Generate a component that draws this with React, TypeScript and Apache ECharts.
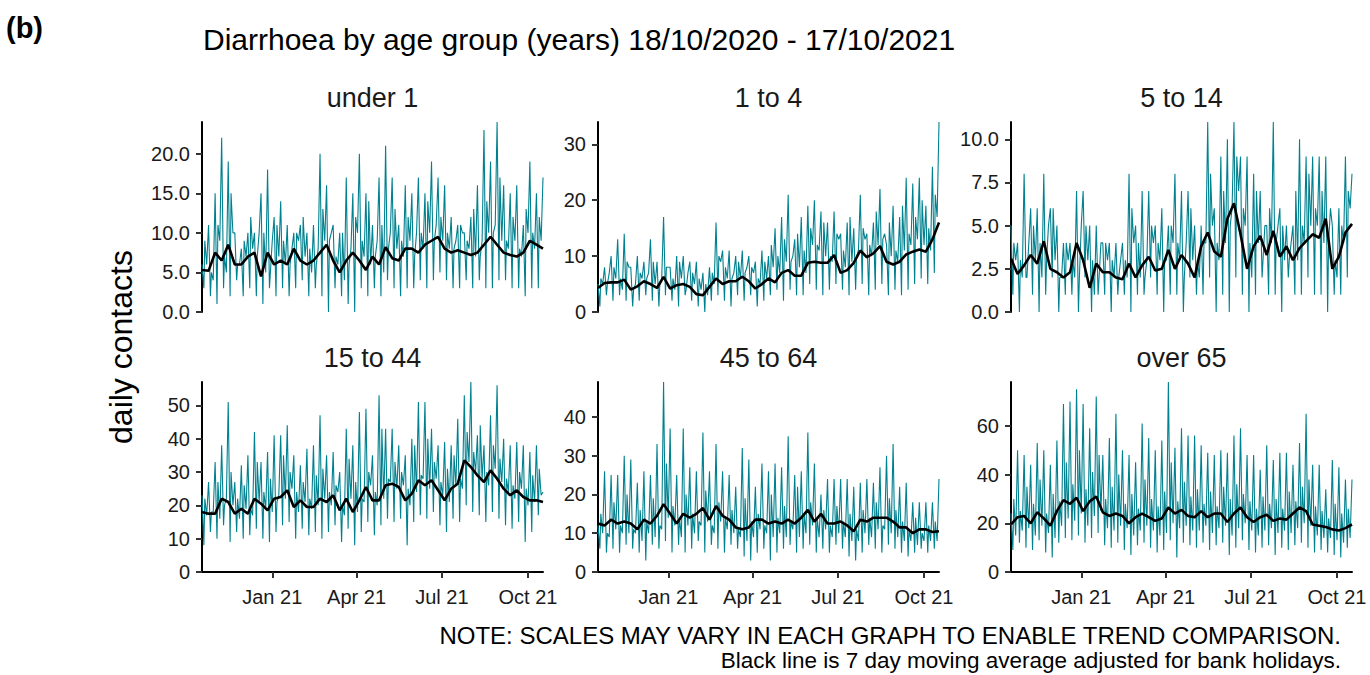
import { useEffect, useRef } from 'react';
import * as echarts from 'echarts';

// weeks start on Sunday 18/10/2020; last point is Sunday 17/10/2021
const START = Date.UTC(2020, 9, 18);
const END = Date.UTC(2021, 9, 17);
const DAY = 24 * 3600 * 1000;

const panelNames = ['under 1', '1 to 4', '5 to 14', '15 to 44', '45 to 64', 'over 65'];
const yMax = [24, 34, 11, 57, 49, 78];
const yTicks = [
    [0, 5, 10, 15, 20],
    [0, 10, 20, 30],
    [0, 2.5, 5, 7.5, 10],
    [0, 10, 20, 30, 40, 50],
    [0, 10, 20, 30, 40],
    [0, 20, 40, 60],
];
const yDecimals = [1, 0, 1, 0, 0, 0];

const xTickDates = ['2021-01-01', '2021-04-01', '2021-07-01', '2021-10-01'];
const xTickLabels = ['Jan 21', 'Apr 21', 'Jul 21', 'Oct 21'];

// per week: Sunday high, weekday low, mid-week second high, late-week value, 7 day average
const under1Peaks = [6, 11, 15, 22, 19, 10, 8, 10, 10, 15, 18, 12, 14, 11, 10, 11, 10, 11, 20, 16, 11, 10, 17, 15, 20, 15, 11, 17, 21, 17, 11, 16, 15, 17, 15, 19, 17, 16, 12, 11, 10, 12, 16, 23, 19, 24, 16, 15, 16, 11, 19, 15, 17];
const under1Lows = [3, 2, 1, 3, 2, 4, 2, 3, 2, 1, 3, 2, 3, 2, 3, 4, 2, 3, 2, 0, 3, 2, 1, 0, 3, 2, 3, 2, 4, 3, 2, 3, 3, 4, 3, 4, 5, 4, 3, 3, 4, 3, 4, 3, 3, 4, 4, 3, 3, 2, 3, 3];
const under1Second = [9, 5, 11, 7, 15, 6, 9, 12, 7, 10, 5, 11, 9, 6, 10, 12, 8, 6, 13, 9, 7, 10, 6, 12, 9, 14, 7, 11, 8, 13, 9, 12, 7, 10, 14, 9, 12, 10, 8, 11, 9, 13, 7, 14, 10, 17, 9, 12, 8, 13, 10, 12];
const under1Mids = [6, 4, 9, 5, 10, 6, 7, 8, 10, 5, 9, 7, 6, 8, 9, 7, 5, 8, 9, 10, 6, 4, 8, 10, 7, 6, 9, 5, 10, 8, 7, 9, 10, 8, 10, 11, 9, 8, 9, 10, 8, 7, 9, 10, 11, 9, 8, 9, 7, 10, 8, 9];
const under1Avg = [5.3, 5.2, 7.5, 6.5, 8.5, 6, 6, 7, 7.5, 4.5, 7.5, 6, 6.5, 6, 8, 6.5, 6, 6.5, 7.5, 8.5, 6.5, 5, 6.5, 7.5, 6.5, 5.3, 7, 6, 8.2, 6.8, 6.5, 8, 8, 7.5, 8.5, 9, 9.5, 8, 7.5, 7.8, 7.5, 7.2, 7.5, 8.5, 9.5, 8.5, 7.5, 7.2, 7, 7.5, 9, 8.5, 8];

const age1to4Peaks = [5, 8, 10, 13, 14, 8, 10, 9, 13, 9, 17, 8, 10, 10, 9, 9, 7, 8, 16, 11, 11, 10, 11, 10, 9, 11, 10, 15, 17, 21, 13, 17, 19, 20, 18, 16, 18, 14, 16, 15, 21, 14, 16, 22, 12, 19, 17, 24, 23, 24, 19, 26, 34];
const age1to4Lows = [1, 3, 2, 3, 2, 1, 2, 3, 2, 1, 3, 2, 1, 3, 2, 1, 0, 2, 3, 2, 1, 3, 2, 3, 1, 2, 3, 4, 2, 4, 3, 3, 5, 4, 3, 4, 5, 4, 3, 4, 5, 3, 4, 5, 3, 4, 3, 4, 5, 6, 5, 7];
const age1to4Second = [6, 5, 8, 6, 9, 4, 7, 6, 9, 5, 8, 6, 9, 4, 7, 6, 5, 7, 10, 8, 6, 9, 7, 8, 6, 9, 12, 10, 13, 9, 14, 11, 15, 12, 16, 10, 14, 11, 17, 10, 15, 12, 18, 13, 16, 11, 19, 14, 17, 20, 15, 21];
const age1to4Mids = [5, 7, 6, 4, 8, 5, 6, 7, 5, 6, 8, 4, 6, 7, 5, 4, 3, 5, 9, 6, 7, 6, 8, 7, 5, 6, 8, 7, 9, 10, 8, 7, 12, 11, 10, 9, 13, 8, 9, 11, 13, 10, 12, 14, 10, 9, 11, 12, 13, 12, 11, 17];
const age1to4Avg = [4.3, 5.2, 5.3, 5.3, 5.8, 4, 4.6, 5.5, 5, 4.3, 6.3, 4.2, 4.8, 5, 4.5, 3.2, 3, 4.5, 6, 5, 5.5, 5.5, 6.3, 5.5, 4.2, 5, 6, 5.3, 7, 7.5, 6.5, 6.5, 8.8, 9, 8.8, 8.8, 10.2, 7, 7.5, 8.8, 11, 9.8, 10.5, 11.8, 9, 8.5, 9, 10.3, 10.8, 11.2, 10.8, 13, 16];

const age5to14Peaks = [5, 4, 8, 6, 6, 8, 6, 5, 4, 4, 7, 7, 5, 5, 4, 4, 4, 4, 8, 5, 7, 7, 5, 6, 5, 8, 7, 7, 5, 5, 11, 6, 9, 10, 11, 9, 9, 8, 7, 5, 11, 6, 5, 5, 10, 9, 9, 9, 9, 5, 6, 9, 8];
const age5to14Lows = [1, 0, 2, 1, 0, 1, 2, 0, 1, 1, 0, 2, 0, 1, 1, 0, 1, 1, 0, 1, 1, 2, 1, 0, 1, 1, 0, 2, 1, 1, 2, 0, 1, 0, 2, 1, 0, 1, 2, 1, 1, 0, 2, 1, 1, 2, 1, 1, 0, 1, 1, 2];
const age5to14Second = [4, 3, 2, 5, 4, 3, 6, 2, 4, 3, 2, 5, 3, 2, 4, 3, 2, 3, 6, 4, 2, 5, 4, 3, 5, 4, 2, 6, 3, 4, 8, 4, 7, 5, 9, 6, 4, 7, 3, 6, 4, 5, 3, 7, 5, 8, 6, 7, 4, 3, 5, 7];
const age5to14Mids = [3, 2, 4, 3, 2, 5, 3, 2, 3, 2, 5, 3, 1, 4, 3, 2, 3, 2, 4, 2, 3, 4, 3, 3, 4, 3, 4, 3, 2, 4, 5, 3, 4, 6, 7, 5, 2, 4, 5, 4, 5, 3, 4, 3, 4, 5, 5, 4, 6, 2, 4, 6];
const age5to14Avg = [3.1, 2.2, 2.7, 3.3, 2.8, 4.1, 2.5, 2.3, 2, 2.3, 4, 3, 1.4, 2.8, 2.3, 2.3, 2, 1.9, 2.8, 2, 2.7, 3.2, 2.4, 2.5, 3.6, 2.5, 3.3, 2.8, 2, 3.8, 4.6, 3.5, 3.2, 5.4, 6.3, 4.5, 2.5, 3.8, 4.4, 3.3, 4.7, 3.2, 3.8, 3, 3.7, 4.1, 4.5, 4.3, 5.4, 2.5, 3.2, 4.6, 5.1];

const age15to44Peaks = [23, 27, 33, 38, 51, 27, 32, 35, 42, 33, 36, 41, 41, 44, 35, 32, 37, 38, 47, 35, 36, 30, 43, 38, 48, 49, 35, 53, 43, 43, 38, 35, 40, 51, 51, 43, 38, 39, 38, 46, 53, 57, 41, 38, 47, 56, 40, 38, 39, 38, 36, 38, 24];
const age15to44Lows = [8, 12, 10, 14, 9, 12, 10, 11, 13, 10, 9, 12, 14, 15, 10, 13, 11, 12, 10, 12, 14, 9, 13, 8, 12, 15, 11, 14, 16, 15, 16, 8, 15, 17, 16, 18, 14, 12, 16, 15, 20, 18, 17, 15, 18, 16, 14, 13, 15, 9, 12, 17];
const age15to44Second = [22, 18, 27, 20, 30, 22, 26, 19, 33, 24, 28, 21, 35, 30, 24, 27, 22, 29, 31, 24, 26, 20, 34, 27, 22, 30, 24, 43, 28, 33, 30, 25, 38, 29, 40, 33, 27, 31, 35, 28, 42, 36, 44, 30, 38, 34, 28, 26, 30, 25, 29, 31];
const age15to44Mids = [17, 18, 16, 22, 20, 16, 19, 17, 21, 19, 18, 23, 22, 25, 18, 21, 19, 20, 22, 20, 24, 17, 22, 18, 21, 26, 20, 22, 27, 25, 26, 20, 24, 28, 25, 28, 23, 21, 26, 25, 33, 30, 28, 26, 31, 27, 24, 22, 25, 20, 21, 23];
const age15to44Avg = [18, 17.5, 17.5, 22, 21, 17.5, 19, 17.5, 22, 20.5, 18.5, 22, 22.5, 24.5, 19.5, 21.5, 19.5, 19.5, 22, 21, 23, 18.5, 22, 18, 21.5, 25.5, 21.5, 21.5, 26, 26.5, 25.5, 21.5, 23.5, 27.5, 26, 27.5, 24.5, 21.5, 25, 26.5, 33.5, 31.5, 29, 27, 30.5, 28, 25, 23, 24.5, 22.5, 21.5, 21.5, 21];

const age45to64Peaks = [12, 26, 25, 25, 30, 29, 23, 26, 25, 33, 49, 37, 25, 37, 27, 26, 36, 26, 33, 26, 25, 22, 32, 29, 22, 28, 26, 28, 27, 35, 25, 26, 36, 28, 20, 24, 24, 24, 24, 22, 23, 24, 23, 27, 30, 33, 22, 23, 18, 18, 18, 18, 24];
const age45to64Lows = [6, 5, 6, 5, 7, 6, 5, 3, 7, 6, 8, 5, 7, 5, 6, 8, 5, 7, 6, 5, 7, 6, 4, 3, 5, 6, 3, 5, 6, 7, 5, 6, 7, 5, 6, 5, 7, 6, 4, 3, 5, 7, 6, 5, 7, 6, 5, 4, 5, 6, 5, 6];
const age45to64Second = [15, 10, 18, 12, 20, 11, 16, 13, 19, 12, 28, 17, 14, 20, 15, 13, 21, 12, 18, 14, 16, 11, 19, 13, 15, 12, 20, 14, 17, 13, 22, 15, 18, 14, 16, 12, 17, 13, 15, 11, 16, 14, 18, 12, 19, 16, 13, 11, 14, 10, 12, 13];
const age45to64Mids = [10, 9, 11, 10, 10, 10, 8, 10, 9, 11, 14, 12, 9, 12, 10, 12, 13, 10, 13, 11, 10, 9, 8, 9, 11, 10, 9, 10, 9, 11, 9, 10, 12, 9, 11, 9, 10, 9, 8, 8, 10, 9, 11, 11, 10, 9, 8, 8, 7, 8, 8, 8];
const age45to64Avg = [12.5, 12, 13.5, 12.5, 13, 12.5, 11, 13.5, 12.5, 14.5, 17.5, 15, 12.5, 15, 14, 15, 16.5, 13.5, 17, 14.5, 13.5, 11.5, 11, 11.5, 13.5, 13.5, 12.5, 13, 12.5, 13.5, 12.5, 14, 16, 13, 15, 12.5, 12.5, 13, 12, 10.5, 13.5, 13, 14, 14, 14, 13, 11.5, 11.5, 10, 11, 11, 10.3, 10.5];

const over65Peaks = [24, 50, 48, 44, 53, 50, 44, 54, 69, 70, 75, 69, 59, 72, 48, 55, 65, 50, 48, 45, 61, 55, 50, 54, 78, 51, 59, 56, 56, 52, 49, 48, 50, 49, 56, 59, 48, 48, 42, 52, 46, 49, 49, 44, 53, 65, 44, 44, 34, 46, 43, 38, 38];
const over65Lows = [9, 12, 10, 9, 13, 8, 6, 12, 14, 13, 15, 12, 14, 16, 11, 10, 12, 9, 7, 11, 12, 10, 8, 9, 13, 6, 12, 11, 10, 12, 9, 11, 12, 7, 10, 13, 9, 8, 10, 11, 7, 10, 9, 11, 12, 10, 8, 9, 8, 7, 6, 10];
const over65Second = [30, 25, 35, 28, 38, 24, 32, 29, 45, 36, 50, 34, 41, 48, 30, 35, 40, 28, 32, 26, 38, 30, 27, 33, 45, 29, 37, 31, 34, 28, 33, 27, 35, 30, 36, 32, 29, 26, 31, 28, 30, 26, 33, 29, 35, 38, 27, 25, 22, 28, 24, 26];
const over65Mids = [15, 17, 18, 15, 19, 16, 14, 19, 22, 21, 24, 19, 23, 25, 18, 17, 19, 18, 15, 17, 19, 17, 15, 16, 20, 18, 19, 17, 17, 19, 16, 18, 19, 15, 18, 20, 17, 15, 17, 18, 16, 17, 16, 18, 20, 19, 15, 14, 14, 13, 12, 14];
const over65Avg = [19.5, 22.5, 23, 20, 24.5, 22, 19, 25, 29.5, 28, 30.5, 25, 29, 31, 24.5, 23, 24, 23, 20, 22.5, 24, 22.5, 21, 22, 26.5, 24, 25.5, 23, 22.5, 25, 22.5, 24, 24, 20.5, 24, 26.5, 22.5, 20.5, 22.5, 23.5, 21, 22, 21.5, 24, 26.5, 25, 19.5, 19, 18.5, 17.5, 17, 18, 19.5];

const panelPeaks = [under1Peaks, age1to4Peaks, age5to14Peaks, age15to44Peaks, age45to64Peaks, over65Peaks];
const panelLows = [under1Lows, age1to4Lows, age5to14Lows, age15to44Lows, age45to64Lows, over65Lows];
const panelSecond = [under1Second, age1to4Second, age5to14Second, age15to44Second, age45to64Second, over65Second];
const panelMids = [under1Mids, age1to4Mids, age5to14Mids, age15to44Mids, age45to64Mids, over65Mids];
const panelAvg = [under1Avg, age1to4Avg, age5to14Avg, age15to44Avg, age45to64Avg, over65Avg];

const FONT = '"Liberation Sans", Arial, sans-serif';
const TEAL = '#00818F';

const dailyPoints = (peaks: number[], lows: number[], second: number[], mids: number[]) => {
    const pts: number[][] = [];
    for (let k = 0; k < peaks.length; k++) {
        const t = START + 7 * k * DAY;
        pts.push([t, peaks[k]]);
        if (k < lows.length) {
            pts.push([t + 2 * DAY, lows[k]]);
            pts.push([t + 3 * DAY, second[k]]);
            pts.push([t + 5 * DAY, mids[k]]);
        }
    }
    return pts;
};

const avgPoints = (avg: number[]) => avg.map((v, k) => [START + 7 * k * DAY, v]);

const App = () => {
    const chartRef = useRef<HTMLDivElement>(null);

    useEffect(() => {
        if (!chartRef.current) return;
        const chart = echarts.init(chartRef.current, null, { renderer: 'svg' });

        const colLeft = [202, 598, 1011];
        const rowTop = [122, 382];
        const panelW = 341;
        const panelH = 190;
        const xTickValues = xTickDates.map((d) => Date.parse(d + 'T00:00:00Z'));

        const grids: any[] = [];
        const xAxes: any[] = [];
        const yAxes: any[] = [];
        const series: any[] = [];
        const graphics: any[] = [];

        panelNames.forEach((name, i) => {
            const row = Math.floor(i / 3);
            const col = i % 3;
            const bottomRow = row === 1;
            grids.push({
                left: colLeft[col],
                top: rowTop[row],
                width: panelW,
                height: panelH,
            });
            xAxes.push({
                gridIndex: i,
                type: 'value',
                min: START,
                max: END,
                axisLine: { show: bottomRow, onZero: false, lineStyle: { color: '#000', width: 2 } },
                axisTick: {
                    show: bottomRow,
                    length: 6,
                    customValues: xTickValues,
                    lineStyle: { color: '#333', width: 2 },
                },
                axisLabel: {
                    show: bottomRow,
                    customValues: xTickValues,
                    formatter: (v: number) => xTickLabels[xTickValues.indexOf(v)] ?? '',
                    fontFamily: FONT,
                    fontSize: 20,
                    color: '#1a1a1a',
                    margin: 15,
                },
                splitLine: { show: false },
            });
            yAxes.push({
                gridIndex: i,
                type: 'value',
                min: 0,
                max: yMax[i],
                axisLine: { show: true, lineStyle: { color: '#000', width: 2 } },
                axisTick: {
                    show: true,
                    length: 6,
                    customValues: yTicks[i],
                    lineStyle: { color: '#333', width: 2 },
                },
                axisLabel: {
                    customValues: yTicks[i],
                    formatter: (v: number) => v.toFixed(yDecimals[i]),
                    fontFamily: FONT,
                    fontSize: 20,
                    color: '#1a1a1a',
                    margin: 12,
                },
                splitLine: { show: false },
            });
            series.push({
                type: 'line',
                xAxisIndex: i,
                yAxisIndex: i,
                data: dailyPoints(panelPeaks[i], panelLows[i], panelSecond[i], panelMids[i]),
                showSymbol: false,
                symbol: 'none',
                lineStyle: { color: TEAL, width: 1.1 },
                z: 2,
            });
            series.push({
                type: 'line',
                xAxisIndex: i,
                yAxisIndex: i,
                data: avgPoints(panelAvg[i]),
                showSymbol: false,
                symbol: 'none',
                lineStyle: { color: '#000', width: 2.6 },
                z: 3,
            });
            graphics.push({
                type: 'text',
                x: colLeft[col] + panelW / 2,
                y: rowTop[row] - 24,
                style: {
                    text: name,
                    font: `27px ${FONT}`,
                    fill: '#1a1a1a',
                    textAlign: 'center',
                    textVerticalAlign: 'middle',
                },
            });
        });

        graphics.push(
            {
                type: 'text',
                x: 6,
                y: 28,
                style: { text: '(b)', font: `bold 29px ${FONT}`, fill: '#000', textAlign: 'left', textVerticalAlign: 'middle' },
            },
            {
                type: 'text',
                x: 203,
                y: 39,
                style: {
                    text: 'Diarrhoea by age group (years) 18/10/2020 - 17/10/2021',
                    font: `30px ${FONT}`,
                    fill: '#000',
                    textAlign: 'left',
                    textVerticalAlign: 'middle',
                },
            },
            {
                type: 'text',
                x: 121,
                y: 347,
                rotation: Math.PI / 2,
                style: { text: 'daily contacts', font: `32px ${FONT}`, fill: '#000', textAlign: 'center', textVerticalAlign: 'middle' },
            },
            {
                type: 'text',
                x: 1341,
                y: 635,
                style: {
                    text: 'NOTE: SCALES MAY VARY IN EACH GRAPH TO ENABLE TREND COMPARISON.',
                    font: `24px ${FONT}`,
                    fill: '#000',
                    textAlign: 'right',
                    textVerticalAlign: 'middle',
                },
            },
            {
                type: 'text',
                x: 1341,
                y: 660,
                style: {
                    text: 'Black line is 7 day moving average adjusted for bank holidays.',
                    font: `22.5px ${FONT}`,
                    fill: '#000',
                    textAlign: 'right',
                    textVerticalAlign: 'middle',
                },
            }
        );

        chart.setOption({
            animation: false,
            backgroundColor: '#fff',
            grid: grids,
            xAxis: xAxes,
            yAxis: yAxes,
            series,
            graphic: graphics,
        });

        return () => {
            chart.dispose();
        };
    }, []);

    return (
        <div
            ref={chartRef}
            style={{ position: 'fixed', left: 0, top: 0, width: '1370px', height: '675px' }}
        />
    );
};

export default App;
